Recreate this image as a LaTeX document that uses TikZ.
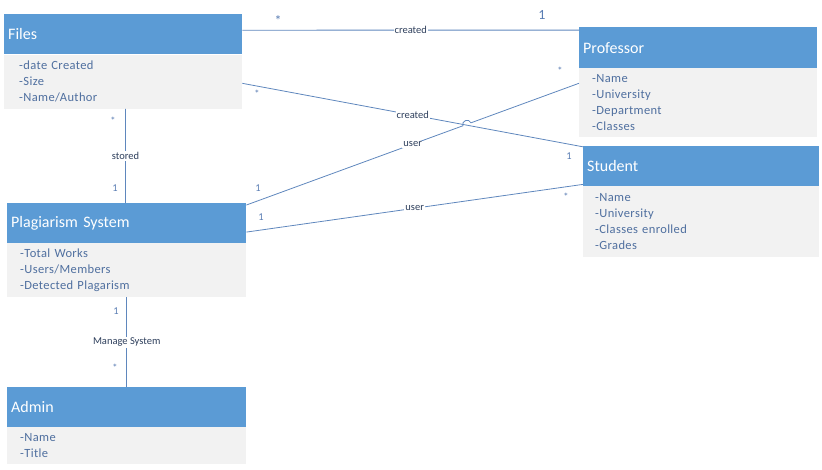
\documentclass[tikz,border=0pt]{standalone}
\usepackage{fontspec}
\setmainfont{Carlito}
\usetikzlibrary{calc}
\definecolor{hdr}{HTML}{5B9BD5}
\definecolor{bdy}{HTML}{F2F2F2}
\definecolor{btxt}{HTML}{4F6F9F}
\definecolor{lnc}{HTML}{5F87BD}
\definecolor{lbl}{HTML}{2E3F5C}
\definecolor{mult}{HTML}{5A7DB3}
\begin{document}
\begin{tikzpicture}[x=1pt,y=-1pt,
  hdrbox/.style={anchor=north west,fill=hdr,draw=none,minimum height=40pt,inner xsep=4pt,inner ysep=0pt,
     align=left,text=white,font=\fontsize{16}{18}\selectfont},
  bdybox/.style={anchor=north west,fill=bdy,draw=none,inner xsep=13pt,inner ysep=0pt,
     align=left,text=btxt,font=\addfontfeatures{LetterSpace=3}\fontsize{12.5}{16}\selectfont},
  conn/.style={draw=lnc,line width=0.8pt},
  lab/.style={fill=white,inner sep=1pt,text=lbl,font=\fontsize{10.5}{11}\selectfont},
  mul/.style={inner sep=0pt,text=mult,font=\fontsize{10.5}{11}\selectfont},
  bigmul/.style={mul,font=\fontsize{14}{14}\selectfont},
]
\useasboundingbox (0,0) rectangle (822,469);
% Files
\node[hdrbox,text width=230pt] (fh) at (4,14) {Files};
\node[bdybox,minimum height=54pt,text width=208pt,inner xsep=15pt] (fb) at (4,54.5) {-date Created\\-Size\\-Name/Author};
% Professor
\node[hdrbox,minimum height=41pt,text width=230pt] (ph) at (579,27) {Professor};
\node[bdybox,minimum height=69pt,text width=212pt] (pb) at (579,68) {-Name\\-University\\-Department\\-Classes};
% Student
\node[hdrbox,text width=228pt] (sh) at (583,146) {Student};
\node[bdybox,minimum height=71pt,text width=212pt,inner xsep=12pt] (sb) at (583,186) {-Name\\-University\\-Classes enrolled\\-Grades};
% Plagiarism System
\node[hdrbox,text width=231pt] (gh) at (7,203) {Plagiarism System};
\node[bdybox,minimum height=54pt,text width=213pt] (gb) at (7,243) {-Total Works\\-Users/Members\\-Detected Plagarism};
% Admin
\node[hdrbox,text width=231pt] (ah) at (7,387) {Admin};
\node[bdybox,minimum height=37pt,text width=213pt] (ab) at (7,427) {-Name\\-Title};

% anchor coordinates on box borders
\coordinate (f1) at ($(fh.north east)!0.4!(fh.south east)$);
\coordinate (p1) at ($(ph.north west)!0.075!(ph.south west)$);
\coordinate (f2) at ($(fb.north east)!0.53!(fb.south east)$);
\coordinate (s1) at ($(sh.north west)!0.02!(sh.south west)$);
\coordinate (g1) at ($(gh.north east)!0.05!(gh.south east)$);
\coordinate (p2) at ($(pb.north west)!0.22!(pb.south west)$);
\coordinate (g2) at ($(gh.north east)!0.72!(gh.south east)$);
\coordinate (s2) at ($(sh.north west)!0.95!(sh.south west)$);
\coordinate (f3) at ($(fb.south west)!0.51!(fb.south east)$);
\coordinate (g3) at ($(gh.north west)!0.495!(gh.north east)$);
\coordinate (g4) at ($(gb.south west)!0.5!(gb.south east)$);
\coordinate (a1) at ($(ah.north west)!0.5!(ah.north east)$);

% Files - Professor : created
\draw[conn] (f1) -- node[lab,pos=0.5] {created} (p1);
\node[bigmul] (m1) at (278,21) {*};
\node[bigmul] (m2) at (542,15) {1};
% Files - Student : created
\draw[conn] (f2) -- node[lab,pos=0.5] {created} (s1);
\node[mul] (m3) at (257,94) {*};
\node[mul] (m4) at (569,156) {1};
% Plagiarism - Professor : user (with hop)
\coordinate (h1) at ($(g1)!0.651!(p2)$);
\coordinate (h2) at ($(g1)!0.675!(p2)$);
\draw[conn] (g1) -- (h1) to[bend left=90,looseness=1.6] (h2) -- (p2);
\path (g1) -- node[lab,pos=0.5] {user} (p2);
\node[mul] (m5) at (258,188) {1};
\node[mul] (m6) at (560,71) {*};
% Plagiarism - Student : user
\draw[conn] (g2) -- node[lab,pos=0.5] {user} (s2);
\node[mul] (m7) at (261,217) {1};
\node[mul] (m8) at (566,197) {*};
% Files - Plagiarism : stored
\draw[conn] (f3) -- node[lab,pos=0.5] {stored} (g3);
\node[mul] (m9) at (113,121) {*};
\node[mul] (m10) at (115,188) {1};
% Plagiarism - Admin : Manage System
\draw[conn] (g4) -- node[lab,pos=0.5] {Manage System} (a1);
\node[mul] (m11) at (116,311) {1};
\node[mul] (m12) at (115,368) {*};
\end{tikzpicture}
\end{document}
